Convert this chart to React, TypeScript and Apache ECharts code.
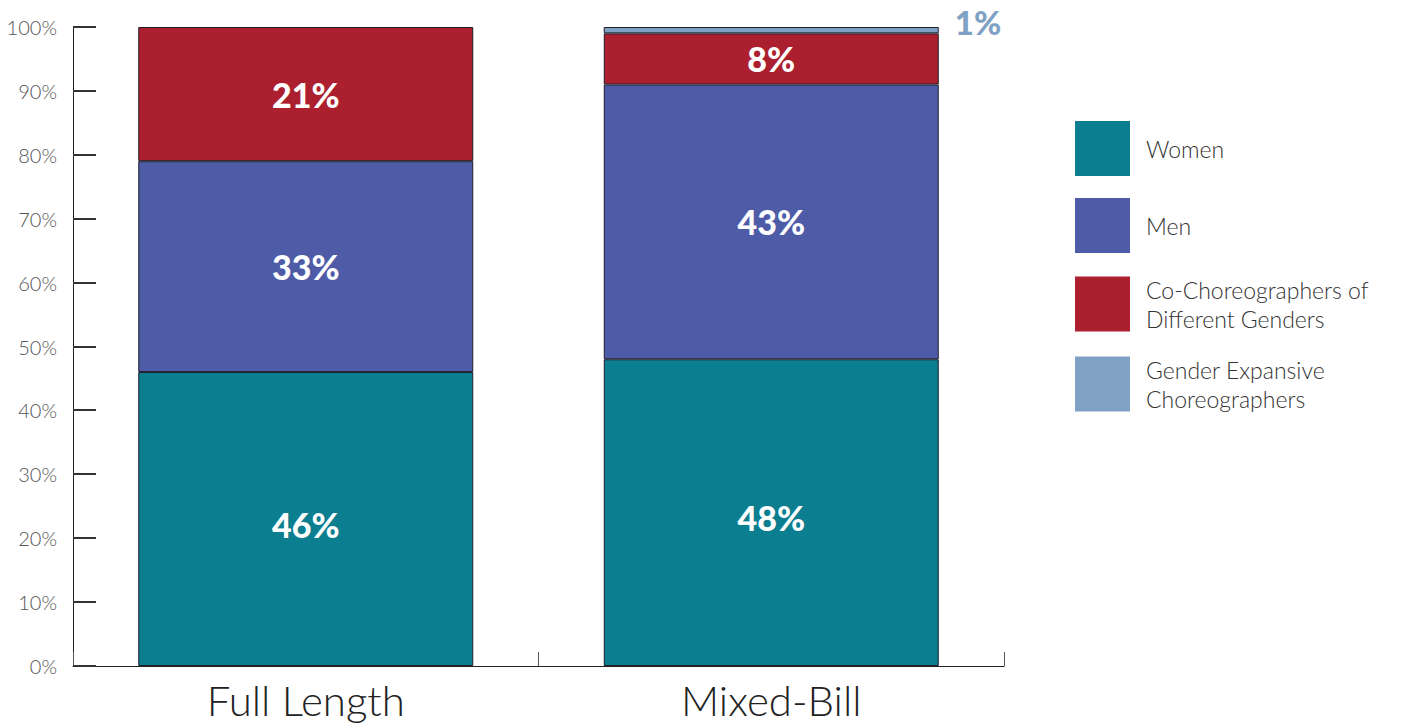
import React, { useEffect, useRef } from "react";
import * as echarts from "echarts";

// Share of works by choreographer gender, per programme type (percent)
const categories = ["Full Length", "Mixed-Bill"];
const seriesNames = [
  "Women",
  "Men",
  "Co-Choreographers of Different Genders",
  "Gender Expansive Choreographers",
];
const women = [46, 48];
const men = [33, 43];
const coChoreographers = [21, 8];
const genderExpansive = [null, 1];
const yTickValues = [0, 10, 20, 30, 40, 50, 60, 70, 80, 90, 100];

const legendLabels: Record<string, string> = {
  Women: "Women",
  Men: "Men",
  "Co-Choreographers of Different Genders": "Co-Choreographers of\nDifferent Genders",
  "Gender Expansive Choreographers": "Gender Expansive\nChoreographers",
};

const colors = ["#0b7e90", "#4e5ca8", "#ab1f2e", "#7fa1c4"];

export default function App() {
  const ref = useRef<HTMLDivElement>(null);

  useEffect(() => {
    document.body.style.margin = "0";
    if (!ref.current) return;
    const chart = echarts.init(ref.current, undefined, { renderer: "svg" });

    const insideLabel = {
      show: true,
      position: "inside",
      color: "#ffffff",
      fontFamily: "Lato",
      fontWeight: 900,
      fontSize: 34,
      formatter: (p: any) => `${p.value}%`,
    };

    const barBase = {
      type: "bar",
      stack: "total",
      barWidth: 335,
      itemStyle: { borderColor: "#1e1e2a", borderWidth: 1 },
    };

    chart.setOption({
      animation: false,
      grid: { left: 73, right: 410, top: 27, bottom: 59 },
      legend: {
        orient: "vertical",
        left: 1075,
        top: 121,
        padding: 0,
        itemWidth: 55,
        itemHeight: 55,
        itemGap: 22,
        icon: "rect",
        itemStyle: { borderWidth: 0 },
        data: seriesNames,
        formatter: (name: string) => legendLabels[name],
        textStyle: {
          color: "#333333",
          fontFamily: "Lato",
          fontWeight: 300,
          fontSize: 23,
          lineHeight: 29,
          padding: [0, 0, 0, 11],
        },
        selectedMode: false,
      },
      xAxis: {
        type: "category",
        data: categories,
        axisLine: { show: true, lineStyle: { color: "#222222", width: 1 } },
        axisTick: { show: true, inside: true, length: 14, lineStyle: { color: "#555555", width: 1 } },
        axisLabel: {
          color: "#222222",
          fontFamily: "Lato",
          fontWeight: 300,
          fontSize: 42,
          margin: 13,
        },
      },
      yAxis: {
        type: "value",
        min: 0,
        max: 100,
        interval: 10,
        axisLine: { show: true, lineStyle: { color: "#222222", width: 1 } },
        axisTick: { show: true, inside: true, length: 23, lineStyle: { color: "#222222", width: 1 } },
        splitLine: { show: false },
        axisLabel: {
          formatter: "{value}%",
          color: "#555555",
          fontFamily: "Lato",
          fontWeight: 300,
          fontSize: 20,
          margin: 16,
        },
      },
      series: [
        { ...barBase, name: seriesNames[0], data: women, itemStyle: { ...barBase.itemStyle, color: colors[0] }, label: { ...insideLabel, offset: [0, 5] } },
        { ...barBase, name: seriesNames[1], data: men, itemStyle: { ...barBase.itemStyle, color: colors[1] }, label: insideLabel },
        { ...barBase, name: seriesNames[2], data: coChoreographers, itemStyle: { ...barBase.itemStyle, color: colors[2] }, label: insideLabel },
        {
          ...barBase,
          name: seriesNames[3],
          data: genderExpansive,
          itemStyle: { ...barBase.itemStyle, color: colors[3] },
          label: {
            show: true,
            position: [351, -5],
            align: "left",
            verticalAlign: "middle",
            color: "#7fa1c4",
            fontFamily: "Lato",
            fontWeight: 900,
            fontSize: 33,
            formatter: (p: any) => `${p.value}%`,
          },
        },
      ],
    });

    // Inward tick marks on the value axis, positioned through the axis scale
    const gridLeft = 73;
    const ticks = yTickValues.map((v) => {
      const y = Math.round(chart.convertToPixel({ yAxisIndex: 0 }, v) as number);
      return {
        type: "rect",
        silent: true,
        z: 1000,
        shape: { x: gridLeft, y: y - 1, width: 23, height: 2 },
        style: { fill: "#333333" },
      };
    });
    chart.setOption({ graphic: { elements: ticks } });

    return () => chart.dispose();
  }, []);

  return <div ref={ref} style={{ width: 1414, height: 725 }} />;
}
